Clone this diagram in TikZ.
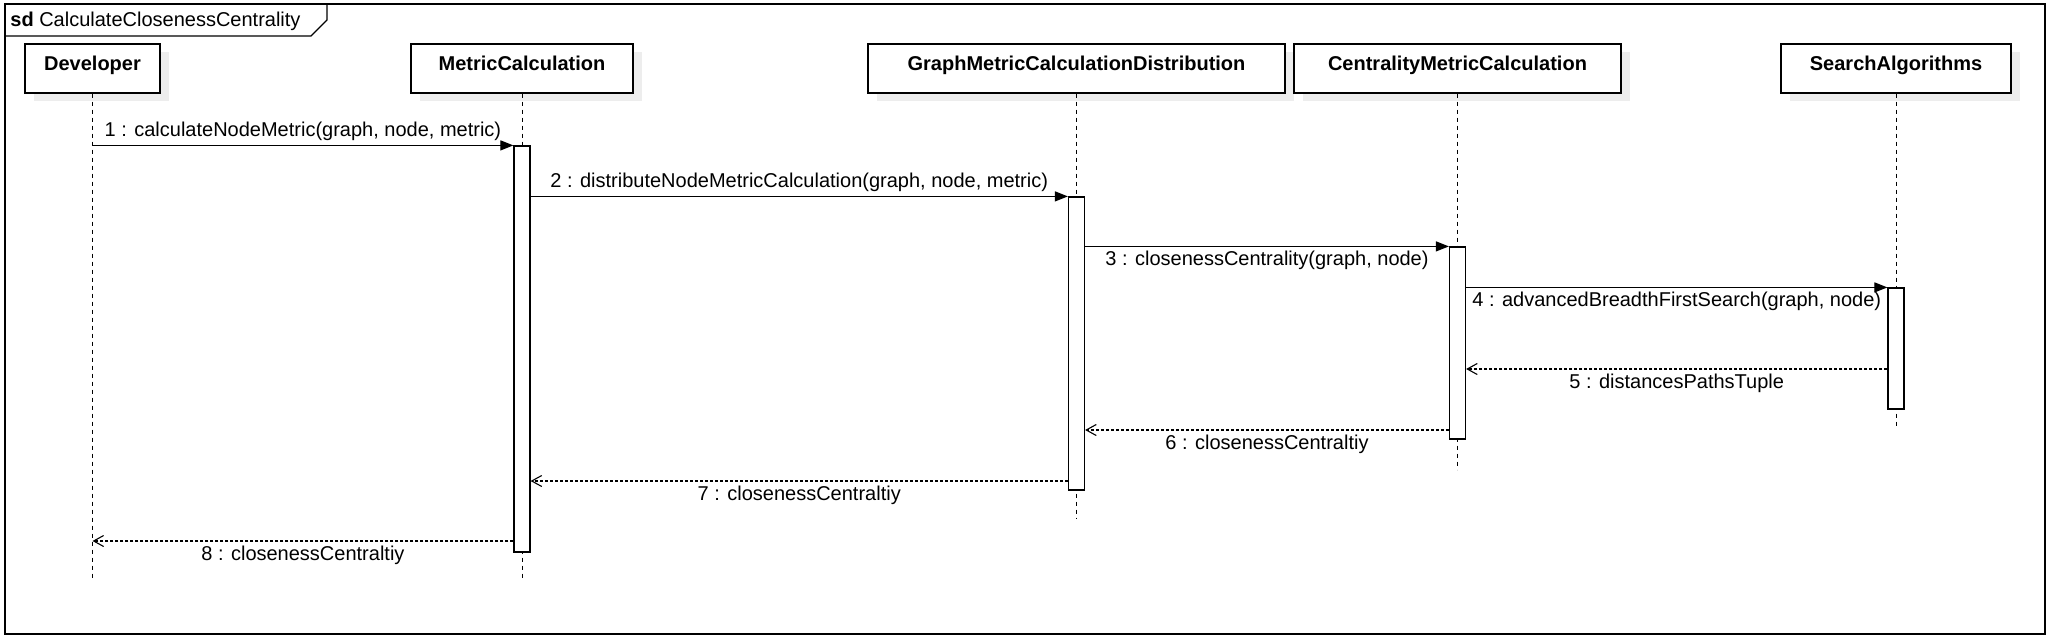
\documentclass[tikz,border=0pt]{standalone}
\usepackage{fontspec}
\setmainfont{Liberation Sans}
\usetikzlibrary{arrows.meta,shadows}

\begin{document}
\begin{tikzpicture}[
x=0.5pt, y=-0.5pt,
font=\fontsize{10}{12}\selectfont,
head/.style={draw, fill=white, line width=0.6pt, font=\fontsize{10}{12}\selectfont\bfseries, inner sep=0pt, text height=13pt, text depth=11.5pt, drop shadow={shadow xshift=4.5pt, shadow yshift=-4pt, fill=black!7, opacity=1}},
bar/.style={draw, fill=white, line width=0.6pt, minimum width=8pt, inner sep=0pt},
lifeline/.style={line width=0.5pt, dash pattern=on 2pt off 2pt},
call/.style={-{Triangle[length=6.5pt,width=5pt]}, line width=0.55pt},
reply/.style={-{Straight Barb[length=5pt,width=5.5pt]}, line width=0.55pt, dash pattern=on 1.5pt off 1pt},
msg/.style={inner sep=2pt},
frame/.style={line width=0.7pt}
]
\useasboundingbox (0,0) rectangle (2050,638);

% frame and its tab
\draw[frame] (5,4) rectangle (2045,634);
\draw[frame] (5,36) -- (311,36) -- (327,20) -- (327,4);
\node[anchor=base west, inner sep=0pt] (title) at (10,26) {\textbf{sd} CalculateClosenessCentrality};

% lifeline heads
\node[head, minimum width=67.5pt] (dev) at (92.5,68.5) {Developer};
\node[head, minimum width=111pt] (mc) at (522,68.5) {MetricCalculation};
\node[head, minimum width=208.5pt] (gmcd) at (1076.5,68.5) {GraphMetricCalculationDistribution};
\node[head, minimum width=163.5pt] (cmc) at (1457.5,68.5) {CentralityMetricCalculation};
\node[head, minimum width=115pt] (sa) at (1896,68.5) {SearchAlgorithms};

% lifelines
\draw[lifeline] (dev.south) -- ++(0,485);
\draw[lifeline] (mc.south) -- ++(0,485);
\draw[lifeline] (gmcd.south) -- ++(0,425);
\draw[lifeline] (cmc.south) -- ++(0,376);
\draw[lifeline] (sa.south) -- ++(0,332);

% activations
\node[bar, minimum height=203pt] (mcbar) at (522,349) {};
\node[bar, minimum height=146.5pt] (gmcdbar) at (1076.5,343.5) {};
\node[bar, minimum height=96pt] (cmcbar) at (1457.5,343) {};
\node[bar, minimum height=60.5pt] (sabar) at (1896,348.5) {};

% return heights
\coordinate (r5) at (0,369);
\coordinate (r6) at (0,430);
\coordinate (r7) at (0,481);
\coordinate (r8) at (0,541);

% calls
\draw[call] (dev.south |- mcbar.north west) -- (mcbar.north west)
  node[midway, above, msg] {1 : calculateNodeMetric(graph, node, metric)};
\draw[call] (mcbar.north east |- gmcdbar.north west) -- (gmcdbar.north west)
  node[midway, above, msg] {2 : distributeNodeMetricCalculation(graph, node, metric)};
\draw[call] (gmcdbar.north east |- cmcbar.north west) -- (cmcbar.north west)
  node[midway, below, msg] {3 : closenessCentrality(graph, node)};
\draw[call] (cmcbar.north east |- sabar.north west) -- (sabar.north west)
  node[midway, below, msg] {4 : advancedBreadthFirstSearch(graph, node)};

% replies
\draw[reply] (sabar.west |- r5) -- (cmcbar.east |- r5)
  node[midway, below, msg] {5 : distancesPathsTuple};
\draw[reply] (cmcbar.west |- r6) -- (gmcdbar.east |- r6)
  node[midway, below, msg] {6 : closenessCentraltiy};
\draw[reply] (gmcdbar.west |- r7) -- (mcbar.east |- r7)
  node[midway, below, msg] {7 : closenessCentraltiy};
\draw[reply] (mcbar.west |- r8) -- (dev.south |- r8)
  node[midway, below, msg] {8 : closenessCentraltiy};
\end{tikzpicture}
\end{document}
